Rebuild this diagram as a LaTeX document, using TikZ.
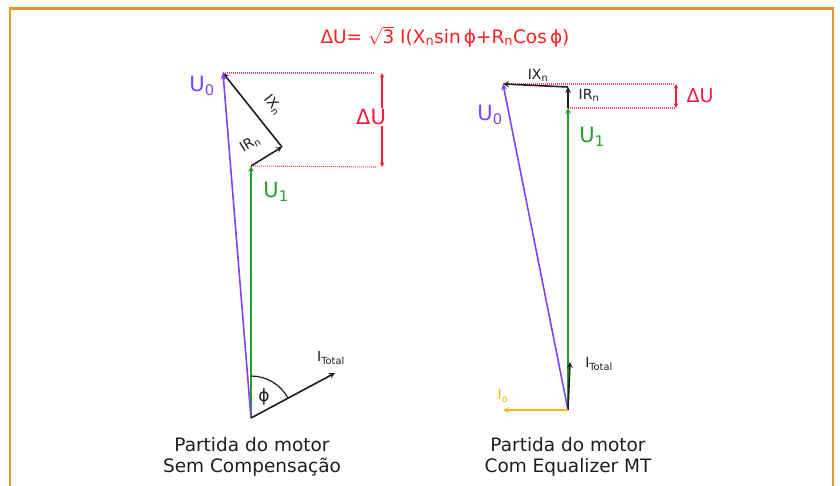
\documentclass[tikz,border=0pt]{standalone}
\usepackage{fontspec}
\setmainfont{DejaVu Sans}
\usetikzlibrary{angles}
\definecolor{borda}{RGB}{234,148,44}
\definecolor{roxo}{RGB}{128,64,255}
\definecolor{verde}{RGB}{34,160,40}
\definecolor{vermelho}{RGB}{240,30,60}
\definecolor{titred}{RGB}{255,30,30}
\definecolor{amarelo}{RGB}{255,180,0}
\definecolor{preto}{RGB}{30,30,30}
\tikzset{
  vec/.style={->, line width=1.6pt},
  pontilhado/.style={vermelho!80, line width=1.1pt, dash pattern=on 1pt off 1pt},
  grande/.style={font=\fontsize{21}{21}\selectfont},
  pequeno/.style={font=\fontsize{14}{14}\selectfont, inner sep=1pt},
  legenda/.style={font=\fontsize{18.5}{21}\selectfont, align=center, text=preto}
}
\begin{document}
\begin{tikzpicture}[x=1pt, y=1pt, >=stealth]
  \useasboundingbox (0,0) rectangle (840,485);
  \clip (0,0) rectangle (840,485);

  % Moldura
  \draw[borda, line width=2.5pt] (10,-10) rectangle (833,476.5);

  % Formula
  \node[text=titred, font=\fontsize{18.5}{18.5}\selectfont] (titulo) at (445,448)
    {ΔU= \(\sqrt{\mbox{3}}\) I(X\textsubscript{n}sin\,ϕ+R\textsubscript{n}Cos\,ϕ)};

  % ---------- Sem compensacao ----------
  \coordinate (O1) at (251,67);
  \coordinate (U1a) at (251,319);
  \coordinate (IRa) at (282,338);
  \coordinate (U0a) at (223,412);
  \coordinate (ITa) at (335,112);
  \coordinate (DUta) at (382,412);
  \coordinate (DUba) at (382,318);

  % Linhas de referencia
  \draw[pontilhado] (U0a) -- (375,412);
  \draw[pontilhado] (U1a) -- (377,318);

  % Vetores
  \draw[vec, verde] (O1) -- (U1a);
  \draw[vec, preto] (U1a) -- (IRa);
  \draw[vec, preto] (IRa) -- (U0a);
  \draw[vec, roxo] (O1) -- (U0a);
  \draw[vec, preto] (O1) -- (ITa);

  % Angulo phi
  \pic[draw, preto, line width=1.2pt, angle radius=42] {angle = ITa--O1--U1a};
  \node[font=\fontsize{17}{17}\selectfont, text=preto] (phia) at (264,88) {ϕ};

  % Queda de tensao
  \draw[<->, vermelho, line width=1.1pt] (DUta) -- (DUba);
  \node[grande, text=vermelho, fill=white, inner sep=1pt] (lDUa) at (371,368) {ΔU};

  % Rotulos
  \node[grande, text=roxo] (lU0a) at (202,399) {U\textsubscript{0}};
  \node[grande, text=verde] (lU1a) at (276,293) {U\textsubscript{1}};
  \node[pequeno, text=preto, rotate=-51] (lIXa) at (273,380) {IX\textsubscript{n}};
  \node[pequeno, text=preto, rotate=31] (lIRa) at (250,341) {IR\textsubscript{n}};
  \node[pequeno, text=preto] (lITa) at (331,127) {I\textsubscript{Total}};

  \node[legenda] (capa) at (252,28) {Partida do motor\\Sem Compensação};

  % ---------- Com Equalizer MT ----------
  \coordinate (O2) at (568,75);
  \coordinate (U1b) at (568,377);
  \coordinate (IRb) at (568,398);
  \coordinate (U0b) at (503,401);
  \coordinate (ITb) at (570,123);
  \coordinate (Iob) at (503,75);
  \coordinate (DUtb) at (676,401);
  \coordinate (DUbb) at (676,377);

  % Linhas de referencia
  \draw[pontilhado] (U0b) -- (675,401);
  \draw[pontilhado] (U1b) -- (675,377);

  % Vetores
  \draw[vec, verde] (O2) -- (U1b);
  \draw[vec, preto] (U1b) -- (IRb);
  \draw[vec, preto] (IRb) -- (U0b);
  \draw[vec, roxo] (O2) -- (U0b);
  \draw[vec, preto] (O2) -- (ITb);
  \draw[vec, amarelo] (O2) -- (Iob);

  % Queda de tensao
  \draw[<->, vermelho, line width=1.1pt] (DUtb) -- (DUbb);
  \node[font=\fontsize{19}{19}\selectfont, text=vermelho] (lDUb) at (700,389) {ΔU};

  % Rotulos
  \node[grande, text=roxo] (lU0b) at (490,370) {U\textsubscript{0}};
  \node[grande, text=verde] (lU1b) at (592,348) {U\textsubscript{1}};
  \node[pequeno, text=preto] (lIXb) at (538,410) {IX\textsubscript{n}};
  \node[pequeno, text=preto] (lIRb) at (589,390) {IR\textsubscript{n}};
  \node[pequeno, text=preto] (lITb) at (599,121) {I\textsubscript{Total}};
  \node[pequeno, text=amarelo] (lIob) at (503,89) {I\textsubscript{o}};

  \node[legenda] (capb) at (568,28) {Partida do motor\\Com Equalizer MT};
\end{tikzpicture}
\end{document}
